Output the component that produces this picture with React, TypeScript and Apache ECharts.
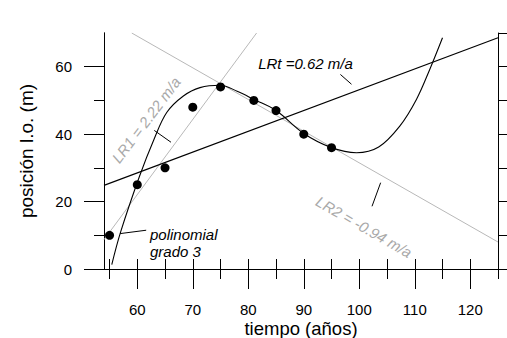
import { useEffect, useRef } from "react";
import * as echarts from "echarts";

// measured points
const years = [55, 60, 65, 70, 75, 81, 85, 90, 95];
const positions = [10, 25, 30, 48, 54, 50, 47, 40, 36];

// polinomial grado 3
const polyX = [55.4, 57, 60.4, 63, 65.3, 68.3, 71.3, 75, 78, 81, 85, 90, 95, 99.5, 103.5, 107.3, 110.3, 112.7, 115];
const polyY = [1.3, 11, 27.5, 38.4, 46.4, 51.3, 53.8, 54.5, 52.7, 50.3, 47, 40.2, 36, 34.5, 36.2, 42.4, 50.3, 59.2, 68.6];

// regression lines (end points)
const lrtX = [54, 125];
const lrtY = [24.8, 68.6];
const lr1X = [54, 81.5];
const lr1Y = [8.7, 70];
const lr2X = [59, 125];
const lr2Y = [70, 8.0];

// tick values
const xMajor = [60, 70, 80, 90, 100, 110, 120];
const xMinor = [55, 65, 75, 85, 95, 105, 115, 125];
const xTop = [55, 60, 65, 70, 75, 80, 85, 90, 95, 100, 105, 110, 115, 120, 125];
const yMajor = [0, 20, 40, 60];
const yMinor = [10, 30, 50];
const yRight = [0, 10, 20, 30, 40, 50, 60, 70];

// annotation anchors in data units
const leaderLR1 = [[63.06, 41.1], [66.07, 37.6]];
const leaderLRt = [[96.6, 57.7], [98.6, 54.8]];
const leaderLR2 = [[103.85, 25.6], [102.3, 18.6]];
const leaderPoly = [[56.9, 10.5], [61.6, 11.5]];

const labelLR1 = { text: "LR1 = 2.22 m/a", at: [61.6, 44.2] };
const labelLRt = { text: "LRt =0.62 m/a", at: [90.3, 61.1] };
const labelLR2 = { text: "LR2 = -0.94 m/a", at: [100.85, 12.5] };
const labelPoly = { text: "polinomial\ngrado 3", at: [62.29, 7.7] };

const FONT = "'Liberation Sans', Arial, sans-serif";
const GRAY_LINE = "#b8b8b8";
const GRAY_TEXT = "#a9a9a9";

const zip = (a: number[], b: number[]) => a.map((v, i) => [v, b[i]]);

export default function App() {
  const ref = useRef<HTMLDivElement>(null);
  useEffect(() => {
    if (!ref.current) return;
    const chart = echarts.init(ref.current, undefined, { renderer: "svg" });
    const axisLine = { show: true, lineStyle: { color: "#000", width: 1 } };
    const xBase = {
      type: "value" as const,
      min: 54,
      max: 125,
      splitLine: { show: false },
      axisLine,
    };
    const yBase = {
      type: "value" as const,
      min: 0,
      max: 70,
      splitLine: { show: false },
      axisLine,
    };
    const leader = (pts: number[][]) => ({
      type: "line" as const,
      data: pts,
      symbol: "none",
      lineStyle: { color: "#000", width: 1 },
      silent: true,
      z: 5,
    });
    chart.setOption({
      animation: false,
      backgroundColor: "#fff",
      grid: { left: 104, top: 33, right: 9, bottom: 69, containLabel: false, outerBoundsMode: "none" },
      xAxis: [
        {
          ...xBase,
          position: "bottom",
          name: "tiempo (años)",
          nameLocation: "middle",
          nameGap: 50,
          nameMoveOverlap: false,
          nameTextStyle: { fontFamily: FONT, fontSize: 18.5, color: "#000" },
          axisTick: { show: true, length: 20, customValues: xMajor, lineStyle: { color: "#000" } },
          axisLabel: { show: true, customValues: xMajor, margin: 33, fontFamily: FONT, fontSize: 15, color: "#000" },
        },
        {
          ...xBase,
          position: "bottom",
          axisTick: { show: true, length: 10, customValues: xMinor, lineStyle: { color: "#000" } },
          axisLabel: { show: false },
        },
        {
          ...xBase,
          position: "top",
          axisTick: { show: true, length: 10, customValues: xTop, lineStyle: { color: "#000" } },
          axisLabel: { show: false },
        },
      ],
      yAxis: [
        {
          ...yBase,
          position: "left",
          name: "posición l.o. (m)",
          nameLocation: "middle",
          nameGap: 68,
          nameMoveOverlap: false,
          nameTextStyle: { fontFamily: FONT, fontSize: 19, color: "#000" },
          axisTick: { show: true, length: 20, customValues: yMajor, lineStyle: { color: "#000" } },
          axisLabel: { show: true, customValues: yMajor, margin: 32, fontFamily: FONT, fontSize: 15, color: "#000" },
        },
        {
          ...yBase,
          position: "left",
          axisTick: { show: true, length: 10, customValues: yMinor, lineStyle: { color: "#000" } },
          axisLabel: { show: false },
        },
        {
          ...yBase,
          position: "right",
          axisTick: { show: true, length: 9, customValues: yRight, lineStyle: { color: "#000" } },
          axisLabel: { show: false },
        },
      ],
      series: [
        {
          type: "line",
          data: zip(lr1X, lr1Y),
          symbol: "none",
          lineStyle: { color: GRAY_LINE, width: 1 },
          z: 2,
        },
        {
          type: "line",
          data: zip(lr2X, lr2Y),
          symbol: "none",
          lineStyle: { color: GRAY_LINE, width: 1 },
          z: 2,
        },
        {
          type: "line",
          data: zip(lrtX, lrtY),
          symbol: "none",
          lineStyle: { color: "#000", width: 1.1 },
          z: 3,
        },
        {
          type: "line",
          data: zip(polyX, polyY),
          symbol: "none",
          smooth: 0.35,
          lineStyle: { color: "#000", width: 1.1 },
          z: 4,
        },
        leader(leaderLR1),
        leader(leaderLRt),
        leader(leaderLR2),
        leader(leaderPoly),
        {
          type: "scatter",
          data: zip(years, positions),
          symbol: "circle",
          symbolSize: 9,
          itemStyle: { color: "#000", opacity: 1 },
          z: 6,
        },
      ],
    });

    const px = (p: number[]) => chart.convertToPixel({ xAxisIndex: 0, yAxisIndex: 0 }, p) as number[];
    const angle = (deg: number) => (deg * Math.PI) / 180;
    const pLR1 = px(labelLR1.at);
    const pLRt = px(labelLRt.at);
    const pLR2 = px(labelLR2.at);
    const pPoly = px(labelPoly.at);
    const textStyle = (text: string, color: string, align = "center") => ({
      text,
      fill: color,
      font: `italic 15px ${FONT}`,
      align,
      verticalAlign: "middle",
      lineHeight: 17,
    });
    chart.setOption({
      graphic: [
        { type: "text", x: pLR1[0], y: pLR1[1], rotation: angle(52.9), style: textStyle(labelLR1.text, GRAY_TEXT), z: 10 },
        { type: "text", x: pLRt[0], y: pLRt[1], style: textStyle(labelLRt.text, "#000"), z: 10 },
        { type: "text", x: pLR2[0], y: pLR2[1], rotation: angle(-29.8), style: textStyle(labelLR2.text, GRAY_TEXT), z: 10 },
        { type: "text", x: pPoly[0], y: pPoly[1], style: textStyle(labelPoly.text, "#000", "left"), z: 10 },
      ],
    });

    return () => chart.dispose();
  }, []);
  return <div ref={ref} style={{ width: 507, height: 338, position: "absolute", left: 0, top: 0 }} />;
}
